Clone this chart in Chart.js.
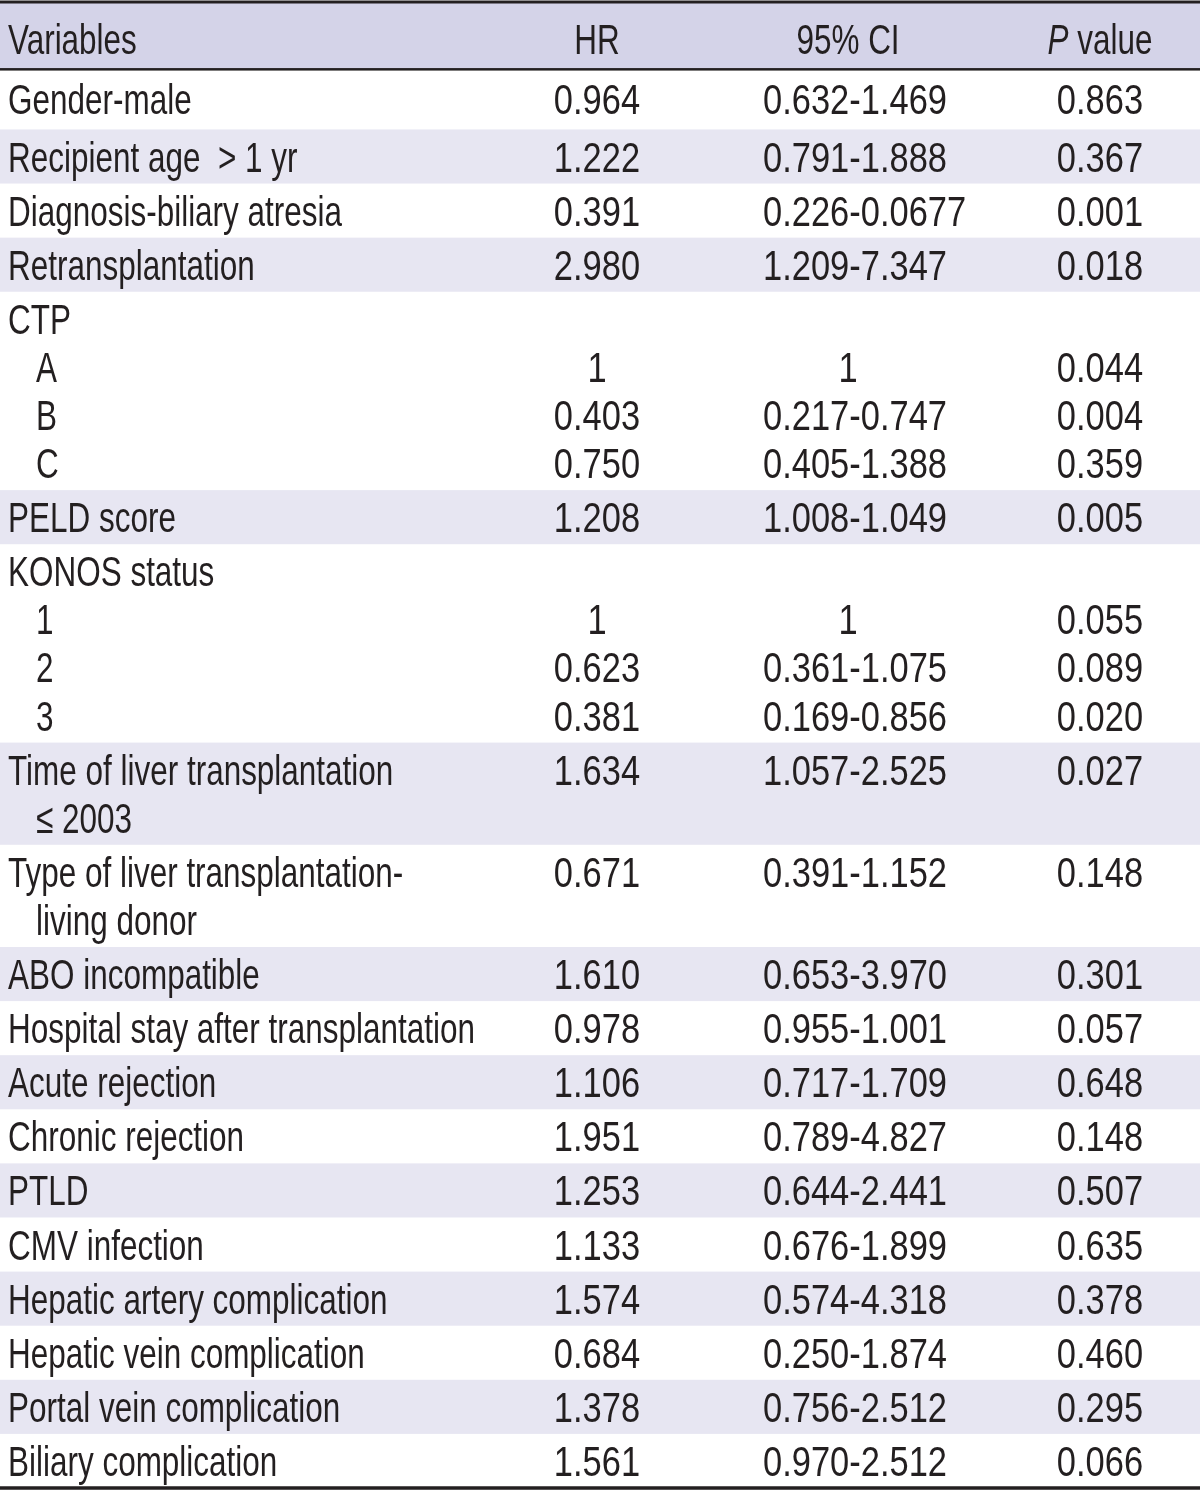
<!DOCTYPE html>
<html>
<head>
<meta charset="utf-8">
<script src="https://cdn.jsdelivr.net/npm/chart.js@4"></script>
<style>
  html, body { margin: 0; padding: 0; background: #fff; }
  canvas { display: block; }
</style>
</head>
<body>
<canvas id="tbl" width="1200" height="1492"></canvas>
<script>
(() => {

  // table content, one entry per text line
  const headers = ['Variables', 'HR', '95% CI', 'P value'];
  const variables = [
    'Gender-male', 'Recipient age  > 1 yr', 'Diagnosis-biliary atresia', 'Retransplantation',
    'CTP', 'A', 'B', 'C',
    'PELD score',
    'KONOS status', '1', '2', '3',
    'Time of liver transplantation', '\u2264 2003',
    'Type of liver transplantation-', 'living donor',
    'ABO incompatible', 'Hospital stay after transplantation', 'Acute rejection', 'Chronic rejection',
    'PTLD', 'CMV infection', 'Hepatic artery complication', 'Hepatic vein complication',
    'Portal vein complication', 'Biliary complication'
  ];
  const hrValues = [
    '0.964', '1.222', '0.391', '2.980',
    '', '1', '0.403', '0.750',
    '1.208',
    '', '1', '0.623', '0.381',
    '1.634', '',
    '0.671', '',
    '1.610', '0.978', '1.106', '1.951',
    '1.253', '1.133', '1.574', '0.684',
    '1.378', '1.561'
  ];
  const ciValues = [
    '0.632-1.469', '0.791-1.888', '0.226-0.0677', '1.209-7.347',
    '', '1', '0.217-0.747', '0.405-1.388',
    '1.008-1.049',
    '', '1', '0.361-1.075', '0.169-0.856',
    '1.057-2.525', '',
    '0.391-1.152', '',
    '0.653-3.970', '0.955-1.001', '0.717-1.709', '0.789-4.827',
    '0.644-2.441', '0.676-1.899', '0.574-4.318', '0.250-1.874',
    '0.756-2.512', '0.970-2.512'
  ];
  const pValues = [
    '0.863', '0.367', '0.001', '0.018',
    '', '0.044', '0.004', '0.359',
    '0.005',
    '', '0.055', '0.089', '0.020',
    '0.027', '',
    '0.148', '',
    '0.301', '0.057', '0.648', '0.148',
    '0.507', '0.635', '0.378', '0.460',
    '0.295', '0.066'
  ];
  // which table row each line belongs to
  const rowGroup = [0, 1, 2, 3, 4, 4, 4, 4, 5, 6, 6, 6, 6, 7, 7, 8, 8, 9, 10, 11, 12, 13, 14, 15, 16, 17, 18];

  // layout / style (in scale units: one text line = 1 on y, pixels on x)
  const headerHeight = 1.4;
  const rowPad = 0.125;
  const firstRowExtra = 0.125;
  const colLabel = 8, colIndent = 36, colHR = 597, colCI = 763, colCIcenter = 848, colP = 1100;
  const fontFamily = '"Liberation Sans Narrow", "Liberation Sans", Arial, sans-serif';
  const fontSize = 42;
  const textColor = '#231f20';
  const headerBg = '#d4d3e8';
  const bandBg = '#e7e6f2';

  // build row extents from the groups
  const groups = [];
  let pos = headerHeight;
  rowGroup.forEach((g, i) => {
    if (!groups[g]) groups[g] = { lines: [] };
    groups[g].lines.push(i);
  });
  groups.forEach((g, gi) => {
    const h = g.lines.length + rowPad + (gi === 0 ? firstRowExtra : 0);
    g.start = pos;
    g.end = pos + h;
    g.centers = g.lines.map((_, k) => pos + (h - g.lines.length) / 2 + k + 0.5);
    pos += h;
  });
  const totalUnits = pos;

  let sx = 1, sxNum = 1;
  const capHalf = fontSize * 0.716 / 2;

  const txt = (ctx, s, x, y, align, font, scale) => {
    ctx.save();
    ctx.font = font || (fontSize + 'px ' + fontFamily);
    ctx.textAlign = align;
    ctx.textBaseline = 'alphabetic';
    ctx.translate(x, y);
    ctx.scale(scale || sx, 1);
    ctx.fillText(s, 0, 0);
    ctx.restore();
  };

  const tablePlugin = {
    id: 'tablePlugin',
    beforeDraw(chart) {
      const ctx = chart.ctx;
      const xs = chart.scales.x, ys = chart.scales.y;
      const left = xs.getPixelForValue(0), right = xs.getPixelForValue(1200);

      ctx.save();
      ctx.font = fontSize + 'px ' + fontFamily;
      sx = 467 / ctx.measureText('Hospital stay after transplantation').width;
      sxNum = 184 / ctx.measureText('0.632-1.469').width;

      // header band
      ctx.fillStyle = headerBg;
      ctx.fillRect(left, ys.getPixelForValue(0), right - left, ys.getPixelForValue(headerHeight) - ys.getPixelForValue(0));

      // alternating row bands
      groups.forEach((g, gi) => {
        if (gi % 2 === 1) {
          const y0 = ys.getPixelForValue(g.start), y1 = ys.getPixelForValue(g.end);
          ctx.fillStyle = bandBg;
          ctx.fillRect(left, y0, right - left, y1 - y0);
        }
      });

      // rules
      ctx.fillStyle = textColor;
      const rule = (v, w) => {
        const y = ys.getPixelForValue(v);
        ctx.fillRect(left, y - w / 2, right - left, w);
      };
      rule(0, 3);
      rule(headerHeight, 2.5);
      rule(totalUnits, 3.5);

      // header texts
      const hy = ys.getPixelForValue(headerHeight / 2) + capHalf + 3;
      txt(ctx, headers[0], xs.getPixelForValue(colLabel), hy, 'left');
      txt(ctx, headers[1], xs.getPixelForValue(colHR), hy, 'center');
      txt(ctx, headers[2], xs.getPixelForValue(colCIcenter), hy, 'center');
      // "P value" with italic P
      const itFont = 'italic ' + fontSize + 'px ' + fontFamily;
      const rest = headers[3].slice(1);
      ctx.font = itFont;
      const wP = ctx.measureText(headers[3][0]).width * sx;
      ctx.font = fontSize + 'px ' + fontFamily;
      const wRest = ctx.measureText(rest).width * sx;
      const px0 = xs.getPixelForValue(colP) - (wP + wRest) / 2;
      txt(ctx, headers[3][0], px0, hy, 'left', itFont);
      txt(ctx, rest, px0 + wP, hy, 'left');

      // body texts
      groups.forEach((g) => {
        g.lines.forEach((li, k) => {
          const y = ys.getPixelForValue(g.centers[k]) + capHalf;
          txt(ctx, variables[li], xs.getPixelForValue(k === 0 ? colLabel : colIndent), y, 'left');
          if (hrValues[li]) txt(ctx, hrValues[li], xs.getPixelForValue(colHR), y, 'center', null, sxNum);
          if (ciValues[li]) {
            if (ciValues[li].indexOf('-') > 0) txt(ctx, ciValues[li], xs.getPixelForValue(colCI), y, 'left', null, sxNum);
            else txt(ctx, ciValues[li], xs.getPixelForValue(colCIcenter), y, 'center', null, sxNum);
          }
          if (pValues[li]) txt(ctx, pValues[li], xs.getPixelForValue(colP), y, 'center', null, sxNum);
        });
      });
      ctx.restore();
    }
  };

  const ctx = document.getElementById('tbl').getContext('2d');

  new Chart(ctx, {
    type: 'scatter',
    data: { datasets: [{ data: [] }] },
    options: {
      responsive: false,
      maintainAspectRatio: false,
      animation: false,
      layout: { padding: { top: 2, bottom: 4, left: 0, right: 0 } },
      plugins: { legend: { display: false }, tooltip: { enabled: false } },
      scales: {
        x: { type: 'linear', min: 0, max: 1200, display: false },
        y: { type: 'linear', min: 0, max: totalUnits, reverse: true, display: false }
      }
    },
    plugins: [tablePlugin]
  });

})();
</script>
</body>
</html>
